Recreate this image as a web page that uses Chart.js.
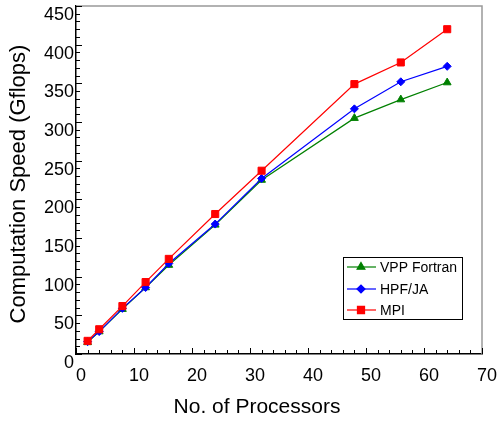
<!DOCTYPE html>
<html>
<head>
<meta charset="utf-8">
<script src="https://cdn.jsdelivr.net/npm/chart.js@4/dist/chart.umd.min.js"></script>
<style>
html,body{margin:0;padding:0;background:#fff;}
#wrap{width:499px;height:423px;}
</style>
</head>
<body>
<div id="wrap"><canvas id="c" width="499" height="423"></canvas></div>
<script>
const processors = [2, 4, 8, 12, 16, 24, 32, 48, 56, 64];
const vppFortran = [15, 29, 58, 86, 115, 167, 225, 305, 329, 351];
const hpfJa      = [16, 29, 59, 86, 117, 168, 227, 317, 352, 372];
const mpi        = [17, 32, 62, 93, 123, 181, 237, 349, 377, 420];
const seriesNames = ['VPP Fortran', 'HPF/JA', 'MPI'];
const xTitle = 'No. of Processors';
const yTitle = 'Computation Speed (Gflops)';

const FONT = '"Liberation Sans", Arial, sans-serif';

function pts(ys){ return processors.map((x,i)=>({x:x, y:ys[i]})); }

const decor = {
  id: 'decor',
  beforeDatasetsDraw(chart){
    const ctx = chart.ctx, a = chart.chartArea;
    const xs = chart.scales.x, ys = chart.scales.y;
    ctx.save();
    ctx.strokeStyle = '#999999';
    ctx.lineWidth = 1.5;
    ctx.beginPath();
    ctx.moveTo(a.left, a.top); ctx.lineTo(a.right, a.top); ctx.lineTo(a.right, a.bottom);
    ctx.stroke();
    ctx.strokeStyle = '#000';
    ctx.lineWidth = 1;
    ctx.beginPath();
    for (let v = 0; v <= 70; v += 2) {
      const px = Math.round(xs.getPixelForValue(v)) + 0.5;
      const len = (v % 10 === 0) ? 6 : 4;
      ctx.moveTo(px, a.bottom); ctx.lineTo(px, a.bottom - len);
    }
    for (let v = 0; v <= 450; v += 10) {
      const py = Math.round(ys.getPixelForValue(v)) + 0.5;
      const len = (v % 50 === 0) ? 6 : 4;
      ctx.moveTo(a.left, py); ctx.lineTo(a.left + len, py);
    }
    ctx.stroke();
    ctx.restore();
  },
  afterDraw(chart){
    const ctx = chart.ctx;
    ctx.save();
    ctx.fillStyle = '#000';
    ctx.font = '21px ' + FONT;
    ctx.textAlign = 'center';
    ctx.textBaseline = 'middle';
    ctx.fillText(xTitle, 257, 407);
    ctx.translate(19, 184);
    ctx.rotate(-Math.PI/2);
    ctx.font = '22px ' + FONT;
    ctx.fillText(yTitle, 0, 0);
    ctx.restore();

    ctx.save();
    const bx = 343, by = 257, bw = 119, bh = 62;
    ctx.fillStyle = '#fff';
    ctx.fillRect(bx, by, bw, bh);
    ctx.strokeStyle = '#000';
    ctx.lineWidth = 1;
    ctx.strokeRect(bx + 0.5, by + 0.5, bw, bh);
    const rows = [267, 289, 310];
    chart.data.datasets.forEach((ds, i) => {
      const y = rows[i];
      ctx.strokeStyle = ds.borderColor;
      ctx.lineWidth = 1.2;
      ctx.beginPath(); ctx.moveTo(347, y); ctx.lineTo(376, y); ctx.stroke();
      Chart.helpers.drawPoint(ctx, {pointStyle: ds.pointStyle, radius: ds.pointRadius, borderWidth: 1}, 361, y);
      ctx.fillStyle = ds.pointBackgroundColor;
      ctx.strokeStyle = ds.borderColor;
      ctx.fill();
      ctx.fillStyle = '#000';
      ctx.font = '14px ' + FONT;
      ctx.textAlign = 'left';
      ctx.textBaseline = 'middle';
      ctx.fillText(ds.label, 380, y + 1);
    });
    ctx.restore();
  }
};

const chart = new Chart(document.getElementById('c'), {
  type: 'line',
  data: {
    datasets: [
      {label: seriesNames[0], data: pts(vppFortran), borderColor: '#008000', backgroundColor: '#008000',
       pointBackgroundColor: '#008000', pointBorderColor: '#008000', pointStyle: 'triangle', pointRadius: 4.5, order: 2},
      {label: seriesNames[1], data: pts(hpfJa), borderColor: '#0000ff', backgroundColor: '#0000ff',
       pointBackgroundColor: '#0000ff', pointBorderColor: '#0000ff', pointStyle: 'rectRot', pointRadius: 4, order: 1},
      {label: seriesNames[2], data: pts(mpi), borderColor: '#ff0000', backgroundColor: '#ff0000',
       pointBackgroundColor: '#ff0000', pointBorderColor: '#ff0000', pointStyle: 'rect', pointRadius: 5, order: 0}
    ]
  },
  options: {
    responsive: false,
    animation: false,
    devicePixelRatio: 1,
    layout: {padding: {top: 6, right: 17, left: 0, bottom: 0}},
    elements: {line: {borderWidth: 1.2, tension: 0}, point: {borderWidth: 1}},
    plugins: {legend: {display: false}, tooltip: {enabled: false}},
    scales: {
      x: {
        type: 'linear', min: 0, max: 70,
        ticks: {stepSize: 10, color: '#000', font: {size: 18, family: FONT}, labelOffset: 5, padding: 11, maxRotation: 0, autoSkip: false},
        grid: {display: false, drawTicks: false},
        border: {display: true, color: '#000', width: 1.5},
        afterFit: s => { s.height = 69; s.paddingLeft = 0; s.paddingRight = 0; }
      },
      y: {
        min: 0, max: 450,
        ticks: {stepSize: 50, color: '#000', font: {size: 18, family: FONT}, labelOffset: 9, padding: 2},
        grid: {display: false, drawTicks: false},
        border: {display: true, color: '#000', width: 1.5},
        afterFit: s => { s.width = 76; s.paddingTop = 0; s.paddingBottom = 0; }
      }
    }
  },
  plugins: [decor]
});
</script>
</body>
</html>
